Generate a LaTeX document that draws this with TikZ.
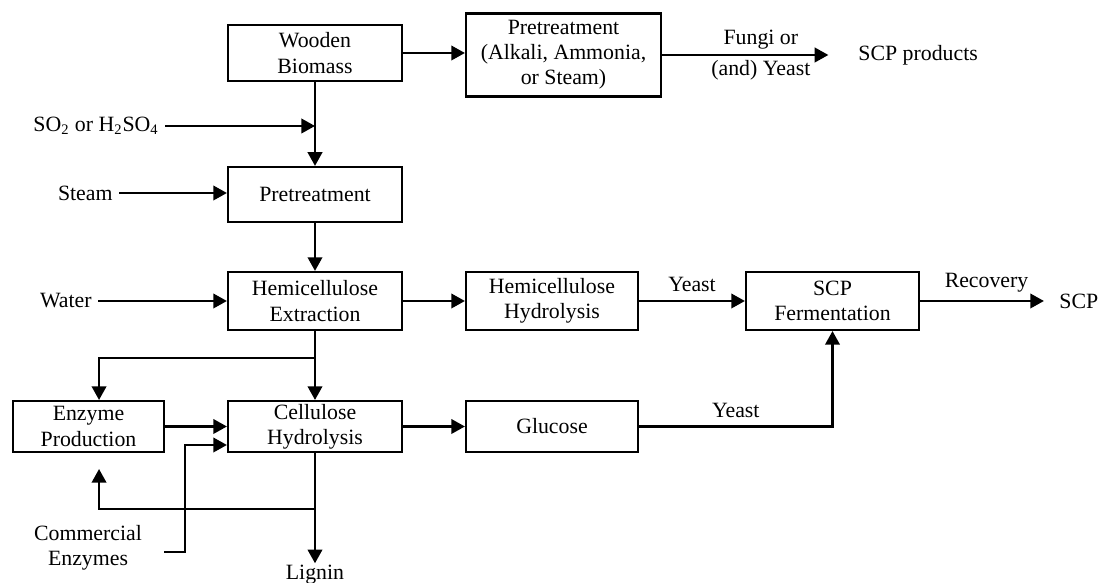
\documentclass[tikz,border=0pt]{standalone}
\usepackage{fontspec}
\setmainfont{Liberation Serif}
\usepackage{tikz}
\usetikzlibrary{arrows.meta,positioning}

\begin{document}
\begin{tikzpicture}[x=0.55pt, y=-0.55pt,
    every node/.style={font=\fontsize{12pt}{13.8pt}\selectfont, align=center},
    box/.style={draw, line width=1.2pt, minimum width=#1*0.55pt, inner sep=1pt},
    arr/.style={line width=1.2pt, -{Triangle[length=7.5pt, width=8pt]}}]
  \useasboundingbox (0,0) rectangle (1098,583);

  % top row
  \node[box=174, minimum height=30.8pt] (wood) at (315,53) {Wooden\\Biomass};
  \node[box=195, minimum height=45.6pt] (pretalt) at (563.5,55) {Pretreatment\\(Alkali, Ammonia,\\or Steam)};
  \node[anchor=west] (scpprod) at (852,55) {SCP products};

  \draw[arr] (wood.east) -- (wood.east -| pretalt.west);
  \draw[arr, shorten >=13pt] (pretalt.east) -- (scpprod.west)
    node[pos=0.52, above=-1pt] (fungi) {Fungi or}
    node[pos=0.52, below=-1pt] (andyeast) {(and) Yeast};

  % acid and steam pretreatment
  \node[box=174, minimum height=30.3pt] (pret) at (315,194.5) {Pretreatment};
  \node[anchor=east] (so2) at (165,126) {SO\textsubscript{2} or H\textsubscript{2}SO\textsubscript{4}};
  \node[anchor=east] (steam) at (119,193) {Steam};

  \draw[arr] (wood) -- (pret);
  \draw[arr] (so2.east) -- (wood.south |- so2.east);
  \draw[arr] (steam.east) -- (steam.east -| pret.west);

  % hemicellulose line
  \node[box=174, minimum height=31.9pt] (hemiext) at (315,301) {Hemicellulose\\Extraction};
  \node[box=172, minimum height=31.9pt] (hemihyd) at (552,301) {Hemicellulose\\Hydrolysis};
  \node[box=173, minimum height=31.9pt] (scpferm) at (832.5,301) {SCP\\Fermentation};
  \node[anchor=west] (scp) at (1053,301) {SCP};
  \node[anchor=east] (water) at (98,301) {Water};

  \draw[arr] (pret) -- (hemiext);
  \draw[arr] (water.east) -- (water.east -| hemiext.west);
  \draw[arr] (hemiext) -- (hemihyd);
  \draw[arr] (hemihyd) -- (scpferm) node[midway, above=1pt] (yeast2) {Yeast};
  \draw[arr, shorten >=5pt] (scpferm) -- (scp) node[midway, above=1pt] (recov) {Recovery};

  % cellulose line
  \node[box=151, minimum height=28pt] (enzprod) at (88.5,426.5) {Enzyme\\Production};
  \node[box=174, minimum height=28pt] (cellhyd) at (315,426.5) {Cellulose\\Hydrolysis};
  \node[box=172, minimum height=28pt] (glucose) at (552,426.5) {Glucose};
  \node (comm) at (88,548) {Commercial\\Enzymes};
  \node[inner sep=1pt] (lignin) at (315,575) {Lignin};

  \coordinate (split1) at (315,358);
  \coordinate (split2) at (315,509);
  \coordinate (commout) at (164,552);
  \coordinate (commup) at (185,445);

  \draw[arr] (hemiext) -- (cellhyd);
  \draw[arr] (split1) -| ([xshift=5.8pt]enzprod.north);
  \draw[arr] (enzprod) -- (cellhyd);
  \draw[arr] (commout) -| (commup) -- (commup -| cellhyd.west);
  \draw[arr] (cellhyd) -- (glucose);
  \draw[arr] (cellhyd.south) -- (lignin.north);
  \draw[arr, shorten >=8.8pt] (split2) -| ([xshift=5.8pt]enzprod.south);
  \draw[arr] (glucose.east) -| (scpferm.south) node[pos=0.25, above=1pt] (yeast3) {Yeast};
\end{tikzpicture}
\end{document}
